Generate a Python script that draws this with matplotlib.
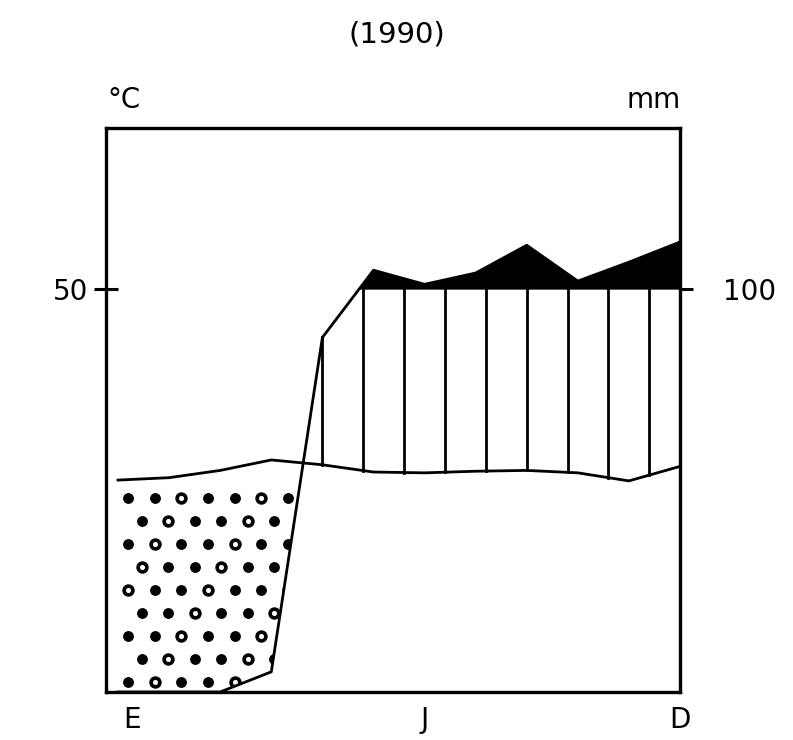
import numpy as np
import matplotlib
matplotlib.use("Agg")
import matplotlib.pyplot as plt
from matplotlib.patches import PathPatch

plt.rcParams["font.family"] = "DejaVu Sans"
plt.rcParams["font.size"] = 20

# climate data 1990
months = np.arange(12)
month_labels = ["E", "J", "D"]
month_label_pos = [0.1, 6, 11]
temp_c = np.array([26.3, 26.6, 27.5, 28.8, 28.2, 27.3, 27.2, 27.4, 27.5, 27.2, 26.2, 28.0])
precip_mm = np.array([0, 0, 0, 5, 88, 147, 112, 140, 209, 120, 167, 217])


def scale_precip(p):
    # Walter-Lieth: 10 C = 20 mm up to 100 mm, then 10 C = 200 mm
    p = np.asarray(p, dtype=float)
    return np.where(p <= 100, p / 2.0, 50 + (p - 100) / 20.0)


prec = scale_precip(precip_mm)

fig = plt.figure(figsize=(7.93, 7.40), dpi=100)
ax = fig.add_axes([0.1337, 0.0649, 0.7238, 0.7621])
ax.set_xlim(-0.235, 11)
ax.set_ylim(0, 70)

# dry season: dotted
dry = ax.fill_between(months, prec, temp_c, where=prec < temp_c, interpolate=True,
                      facecolor="none", edgecolor="none")
clip = PathPatch(dry.get_paths()[0], transform=ax.transData, fc="none", ec="none")
ax.add_patch(clip)
gx, gy = [], []
for r, yy in enumerate(np.arange(1.3, 25.5, 2.85)):
    off = 0.0 if r % 2 == 0 else 0.26
    for xx in np.arange(0.2 + off, 4.5, 0.52):
        gx.append(xx)
        gy.append(yy)
gx = np.array(gx)
gy = np.array(gy)
full = np.arange(len(gx)) % 3 != 1
d1 = ax.scatter(gx[full], gy[full], s=46, c="black", zorder=2)
d2 = ax.scatter(gx[~full], gy[~full], s=40, facecolors="white", edgecolors="black",
                linewidths=2.6, zorder=2)
d1.set_clip_path(clip)
d2.set_clip_path(clip)

# humid season: vertical hatch
for xh in np.arange(4.0, 11, 0.8):
    t = np.interp(xh, months, temp_c)
    p = np.interp(xh, months, prec)
    if p > t:
        ax.plot([xh, xh], [t, min(p, 50)], color="black", lw=2.0, zorder=2)

# perhumid (> 100 mm): black
ax.fill_between(months, 50, prec, where=prec > 50, interpolate=True,
                color="black", lw=0, zorder=2)

ax.plot(months, temp_c, color="black", lw=2.0, zorder=3)
ax.plot(months, prec, color="black", lw=2.0, zorder=3)

for s in ax.spines.values():
    s.set_linewidth(2.4)

ax.set_yticks([50])
ax.set_yticklabels(["50"])
ax.tick_params(axis="y", direction="inout", length=17, width=2.2, pad=4)
ax.set_xticks([])

ax2 = ax.twinx()
ax2.set_ylim(0, 70)
ax2.set_yticks([50])
ax2.set_yticklabels(["100"])
ax2.tick_params(axis="y", direction="out", length=9, width=2.2, pad=22)
for s in ax2.spines.values():
    s.set_visible(False)

for lab, pos in zip(month_labels, month_label_pos):
    ha = "left" if pos < 1 else "center"
    ax.text(pos, -1.8, lab, ha=ha, va="top", fontsize=20)

fig.text(0.50, 0.953, "(1990)", ha="center", va="center", fontsize=21)
fig.text(0.136, 0.865, "°C", ha="left", va="center", fontsize=20)
fig.text(0.858, 0.865, "mm", ha="right", va="center", fontsize=20)

fig.savefig("out.png", dpi=100)
